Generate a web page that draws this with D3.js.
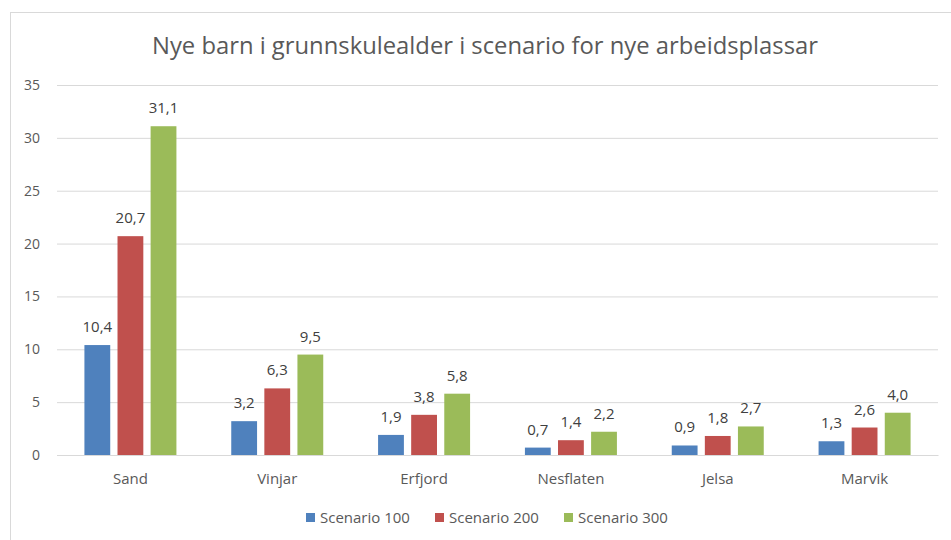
<!DOCTYPE html>
<html>
<head>
<meta charset="utf-8">
<script src="https://cdn.jsdelivr.net/npm/d3@7"></script>
<style>
  body { margin: 0; background: #fff; }
  svg { font-family: "Open Sans", sans-serif; }
</style>
</head>
<body>
<div id="chart"></div>
<script>
var categories = ["Sand", "Vinjar", "Erfjord", "Nesflaten", "Jelsa", "Marvik"];
var seriesNames = ["Scenario 100", "Scenario 200", "Scenario 300"];
var scenario100 = [10.4, 3.2, 1.9, 0.7, 0.9, 1.3];
var scenario200 = [20.7, 6.3, 3.8, 1.4, 1.8, 2.6];
var scenario300 = [31.1, 9.5, 5.8, 2.2, 2.7, 4.0];
var yTicks = [0, 5, 10, 15, 20, 25, 30, 35];
var colors = ["#4f81bd", "#c0504d", "#9bbb59"];

var svgWidth = 951;
var svgHeight = 540;

var margin = { top: 85, right: 13, bottom: 85, left: 57 };
var width = svgWidth - margin.left - margin.right;
var height = svgHeight - margin.top - margin.bottom;

var svg = d3.select("#chart")
  .append("svg")
  .attr("width", svgWidth)
  .attr("height", svgHeight);

// chart frame
svg.append("rect")
  .attr("x", 10.5)
  .attr("y", 12.5)
  .attr("width", 960)
  .attr("height", 600)
  .attr("fill", "#fff")
  .attr("stroke", "#d9d9d9");

svg.append("text")
  .attr("x", 485)
  .attr("y", 54)
  .attr("text-anchor", "middle")
  .attr("fill", "#595959")
  .style("font-size", "23.8px")
  .text("Nye barn i grunnskulealder i scenario for nye arbeidsplassar");

var chartGroup = svg.append("g")
  .attr("transform", `translate(${margin.left}, ${margin.top})`);

var yScale = d3.scaleLinear().domain([0, 35]).range([height, 0]);
var x0 = d3.scaleBand().domain(categories).range([0, width]);
var x1 = d3.scaleBand().domain(seriesNames)
  .range([x0.bandwidth() / 2 - 46, x0.bandwidth() / 2 + 46])
  .paddingInner(0.22);

// gridlines + y labels
var leftAxis = d3.axisLeft(yScale).tickValues(yTicks).tickSize(-width).tickPadding(17)
  .tickFormat(d3.format("d"));
var yAxis = chartGroup.append("g").call(leftAxis);
yAxis.select(".domain").remove();
yAxis.selectAll("line").attr("stroke", "#d9d9d9");
yAxis.selectAll("text").attr("fill", "#595959").style("font-size", "14px")
  .style("font-family", "'Open Sans', sans-serif");

var bottomAxis = d3.axisBottom(x0).tickSize(0).tickPadding(18);
var xAxis = chartGroup.append("g")
  .attr("transform", `translate(0, ${height})`)
  .call(bottomAxis);
xAxis.select(".domain").attr("stroke", "#d9d9d9");
xAxis.selectAll("text").attr("fill", "#595959").style("font-size", "15px")
  .style("font-family", "'Open Sans', sans-serif");

var allSeries = [scenario100, scenario200, scenario300];
var fmt = function(v) { return d3.format(".1f")(v).replace(".", ","); };

allSeries.forEach(function(values, s) {
  var g = chartGroup.append("g");
  g.selectAll("rect")
    .data(values)
    .enter()
    .append("rect")
    .attr("x", (d, i) => x0(categories[i]) + x1(seriesNames[s]))
    .attr("y", d => yScale(d))
    .attr("width", x1.bandwidth())
    .attr("height", d => height - yScale(d))
    .attr("fill", colors[s]);

  g.selectAll("text")
    .data(values)
    .enter()
    .append("text")
    .attr("x", (d, i) => x0(categories[i]) + x1(seriesNames[s]) + x1.bandwidth() / 2)
    .attr("y", d => yScale(d) - 13)
    .attr("text-anchor", "middle")
    .attr("fill", "#404040")
    .style("font-size", "15px")
    .text(d => fmt(d));
});

// legend
var legendX = [306, 435, 564];
var legend = svg.append("g").attr("transform", "translate(0, 513)");
seriesNames.forEach(function(name, s) {
  legend.append("rect")
    .attr("x", legendX[s])
    .attr("y", 0)
    .attr("width", 9)
    .attr("height", 9)
    .attr("fill", colors[s]);
  legend.append("text")
    .attr("x", legendX[s] + 14)
    .attr("y", 10)
    .attr("fill", "#595959")
    .style("font-size", "15px")
    .text(name);
});
</script>
</body>
</html>
